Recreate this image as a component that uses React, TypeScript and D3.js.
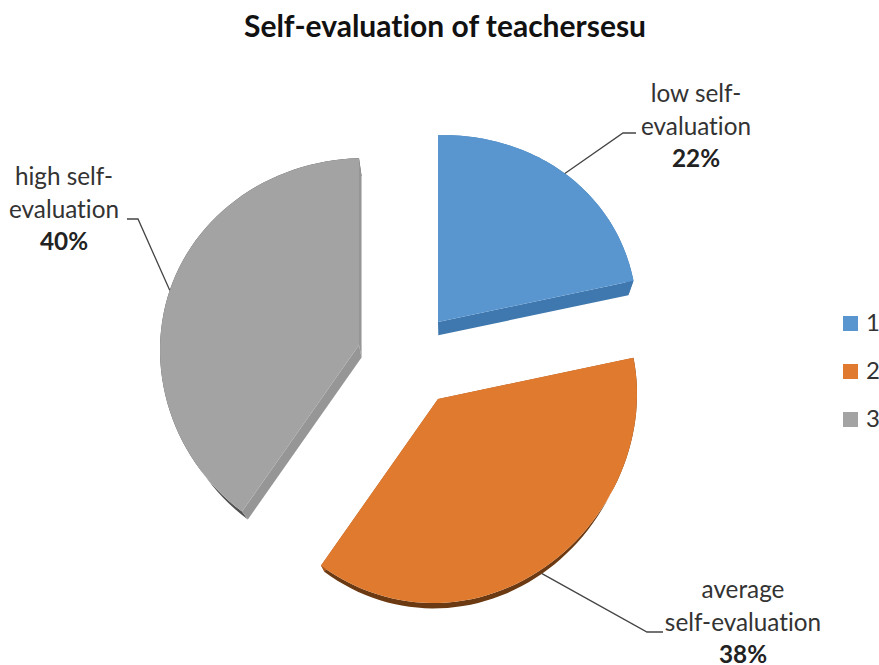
import React from "react";
import * as d3 from "d3";

const categories = ["1", "2", "3"];
const labels = ["low self-evaluation", "average self-evaluation", "high self-evaluation"];
const percents = [22, 38, 40];

const topColors = ["#5996d0", "#e07a2f", "#a3a3a3"];
const radialSideColors = ["#3f78ae", "#a85a20", "#969696"];
const arcSideColors = ["#3f78ae", "#6b3a12", "#505050"];

// where each exploded slice has its tip, and how its label is laid out
const tips = [
  [438, 322],
  [438, 399],
  [359, 345],
];
const labelLines = [
  ["low self-", "evaluation"],
  ["average", "self-evaluation"],
  ["high self-", "evaluation"],
];
const labelPos = [
  { x: 696, y: 102 },
  { x: 743, y: 598 },
  { x: 64, y: 185 },
];
const leaderBends = [
  [[623, 133], [636, 133]],
  [[647, 632], [663, 632]],
  [[138, 219], [127, 219]],
];

const R = 199;
const A = 195; // vertical radius of the tilted disc
const P = 0.044; // perspective
const SHEAR = 5;
const VANISH = [450, 795];
const DEPTH = 0.028;

function project(tip: number[], angle: number, r = 1) {
  const u = Math.sin(angle) * r;
  const v = Math.cos(angle) * r;
  return [tip[0] + u * R, tip[1] - (v * A) / (1 + P * v) - SHEAR * u];
}

function extrude(p: number[]) {
  return [p[0] + (VANISH[0] - p[0]) * DEPTH, p[1] + (VANISH[1] - p[1]) * DEPTH];
}

export default function App() {
  const width = 879;
  const height = 665;

  const pie = d3.pie<number>().sort(null)(percents);
  const line = d3.line();
  const color = d3.scaleOrdinal<string, string>().domain(categories).range(topColors);
  const legendY = d3.scalePoint<string>().domain(categories).range([323, 419]);

  const slices = pie.map((d, i) => {
    const tip = tips[i];
    const steps = d3.range(0, 61).map(
      (k) => d.startAngle + ((d.endAngle - d.startAngle) * k) / 60
    );
    const rim = steps.map((a) => project(tip, a));
    const rimLow = rim.map(extrude).reverse();
    const tipLow = extrude(tip);
    const midAngle = (d.startAngle + d.endAngle) / 2;
    const mid = project(tip, midAngle);
    return {
      top: line([tip, ...rim] as any) + "Z",
      arcSide: line([...rim, ...rimLow] as any) + "Z",
      sideA: line([tip, rim[0], extrude(rim[0]), tipLow] as any) + "Z",
      sideB: line([tip, rim[60], extrude(rim[60]), tipLow] as any) + "Z",
      // leaders start on the outer edge, under the rim for the front slice
      anchor: Math.cos(midAngle) < 0 ? extrude(mid) : mid,
    };
  });

  const font = "Lato, 'Open Sans', sans-serif";

  return (
    <svg
      width={width}
      height={height}
      style={{
        position: "absolute",
        left: 0,
        top: 0,
        background: "#fff",
        fontVariantLigatures: "none",
      }}
      fontFamily={font}
    >
      <text x={445} y={37} textAnchor="middle" fontSize={30} fontWeight={700} fill="#111">
        Self-evaluation of teachersesu
      </text>

      {slices.map((s, i) => (
        <g key={labels[i]}>
          <path d={s.arcSide} fill={arcSideColors[i]} />
          <path d={s.sideA} fill={radialSideColors[i]} />
          <path d={s.sideB} fill={radialSideColors[i]} />
          <path d={s.top} fill={color(categories[i])} />
        </g>
      ))}

      {slices.map((s, i) => (
        <path
          key={i}
          d={line([s.anchor, ...leaderBends[i]] as any) as string}
          fill="none"
          stroke="#444"
          strokeWidth={1.3}
        />
      ))}

      {labelLines.map((lines, i) => (
        <g key={i} fontSize={24.3} fill="#333" textAnchor="middle">
          {lines.map((t, j) => (
            <text key={t} x={labelPos[i].x} y={labelPos[i].y + j * 33}>
              {t}
            </text>
          ))}
          <text
            x={labelPos[i].x}
            y={labelPos[i].y + 65}
            fontWeight={700}
            fill="#222"
          >
            {percents[i]}%
          </text>
        </g>
      ))}

      {categories.map((c) => (
        <g key={c} transform={`translate(843,${legendY(c)})`}>
          <rect x={0} y={-7} width={15} height={15} fill={color(c)} />
          <text x={23} y={8} fontSize={24} fill="#333">
            {c}
          </text>
        </g>
      ))}
    </svg>
  );
}
